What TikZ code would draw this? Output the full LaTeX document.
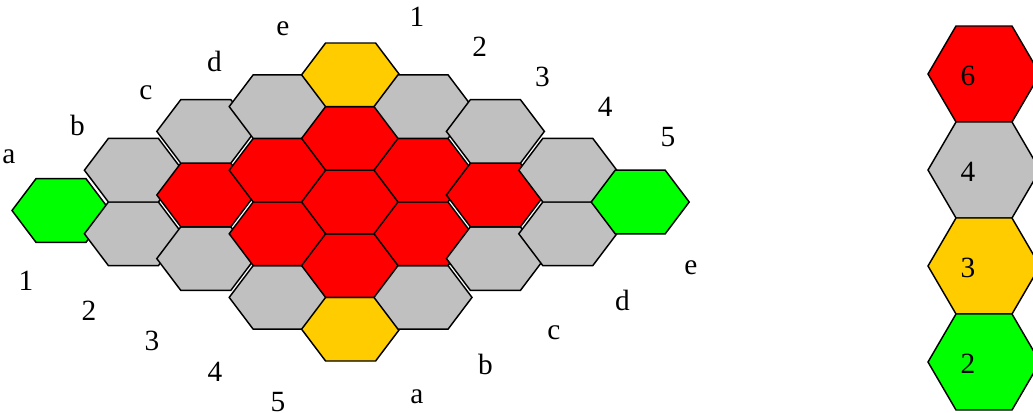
\documentclass[tikz,border=0pt]{standalone}
\usepackage{fontspec}
\setmainfont{Liberation Serif}
\usepackage{tikz}
\definecolor{hexred}{HTML}{FF0000}
\definecolor{hexgray}{HTML}{C0C0C0}
\definecolor{hexyellow}{HTML}{FFCC00}
\definecolor{hexgreen}{HTML}{00FF00}
\begin{document}
\begin{tikzpicture}[x=0.75pt,y=-0.75pt,
  every node/.style={font=\fontsize{22}{22}\selectfont,inner sep=0pt},
  boardhex/.pic={\filldraw[fill=#1,line width=1.1pt] (-49,0)--(-25,-31.8)--(25,-31.8)--(49,0)--(25,31.8)--(-25,31.8)--cycle;},
  keyhex/.pic={\filldraw[fill=#1,line width=1.1pt] (-56,0)--(-28,-48)--(28,-48)--(56,0)--(28,48)--(-28,48)--cycle;}]
\useasboundingbox (0,0) rectangle (1033,412);
% board: 5x5 rhombus, one row of cells per i
\foreach \row [count=\i from 0] in {{hexgreen,hexgray,hexgray,hexgray,hexyellow},{hexgray,hexred,hexred,hexred,hexgray},{hexgray,hexred,hexred,hexred,hexgray},{hexgray,hexred,hexred,hexred,hexgray},{hexyellow,hexgray,hexgray,hexgray,hexgreen}}{
  \foreach \fc [count=\j from 0] in \row {
    \pgfmathsetmacro\yoff{(\i+\j==0)*8.5-(\i+\j==2)*7-(\i+\j==6)*7}
    \pic (cell\i\j) at ({61+72.4*(\i+\j)},{202+31.8*(\j-\i)+\yoff}) {boardhex=\fc};
  }
}
% edge labels
\foreach \l [count=\k from 0] in {a,b,c,d,e}{
  \node (tl\l) at ({9+68.5*\k},{157-32*\k}) {\l};
  \node (br\l) at ({417+68.5*\k},{397-32.2*\k}) {\l};
}
\foreach \n [count=\k from 0] in {1,...,5}{
  \node (tr\n) at ({417+62.75*\k},{17+30*\k}) {\n};
  \node (bl\n) at ({26+63*\k},{281+30.2*\k}) {\n};
}
% key
\foreach \v/\fc [count=\k from 0] in {6/hexred,4/hexgray,3/hexyellow,2/hexgreen}{
  \pic (key\v) at (984,{74+96*\k}) {keyhex=\fc};
  \node (keylbl\v) at (968,{76+96*\k}) {\v};
}
\end{tikzpicture}
\end{document}
